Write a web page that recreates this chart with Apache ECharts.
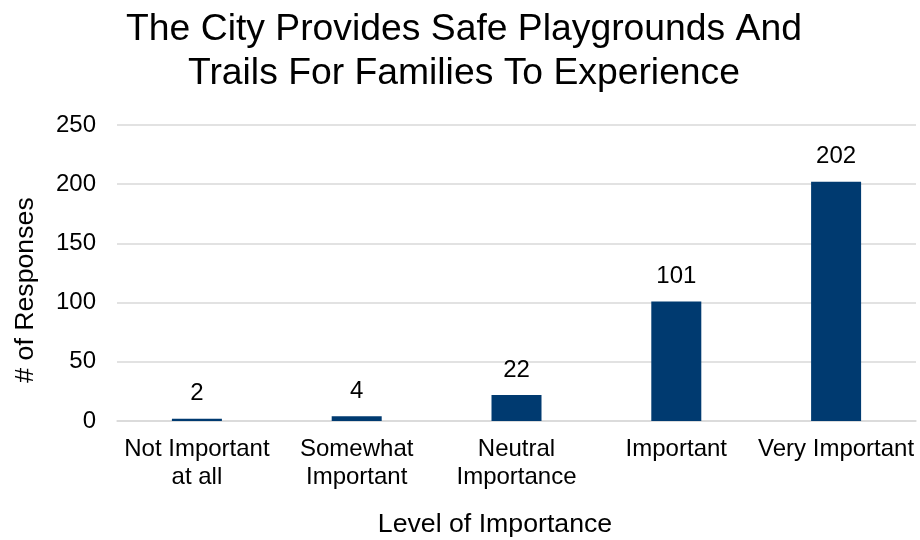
<!DOCTYPE html>
<html>
<head>
<meta charset="utf-8">
<script src="https://cdn.jsdelivr.net/npm/echarts@6/dist/echarts.min.js"></script>
<style>
  html, body { margin: 0; padding: 0; background: #fff; }
  #chart { width: 920px; height: 540px; }
</style>
</head>
<body>
<div id="chart"></div>
<script>
// Survey responses by level of importance
const categories = ['Not Important\nat all', 'Somewhat\nImportant', 'Neutral\nImportance', 'Important', 'Very Important'];
const responses = [2, 4, 22, 101, 202];
const yTicks = [0, 50, 100, 150, 200, 250];

const FONT = '"Liberation Sans", Arial, sans-serif';
const chart = echarts.init(document.getElementById('chart'));

const axisTitle = (text, x, y, rotation) => ({
  type: 'text',
  x: x,
  y: y,
  rotation: rotation,
  style: {
    text: text,
    fontFamily: FONT,
    fontSize: 26.7,
    fill: '#000',
    align: 'center',
    verticalAlign: 'middle'
  }
});

chart.setOption({
  animation: false,
  backgroundColor: '#ffffff',
  title: {
    text: 'The City Provides Safe Playgrounds And\nTrails For Families To Experience',
    left: 464,
    textAlign: 'center',
    top: 8,
    padding: 0,
    textStyle: { fontFamily: FONT, fontSize: 37.3, fontWeight: 'normal', color: '#000', lineHeight: 44 }
  },
  grid: { left: 117, right: 4, top: 125, bottom: 119, containLabel: false, outerBoundsMode: 'none' },
  xAxis: {
    type: 'category',
    data: categories,
    axisTick: { show: false },
    axisLine: { lineStyle: { color: '#d9d9d9', width: 1.5 } },
    axisLabel: { fontFamily: FONT, fontSize: 24, color: '#000', lineHeight: 28, margin: 14, interval: 0 }
  },
  yAxis: {
    type: 'value',
    min: yTicks[0],
    max: yTicks[yTicks.length - 1],
    interval: 50,
    axisLine: { show: false },
    axisTick: { show: false },
    splitLine: { lineStyle: { color: '#d9d9d9', width: 1.5 } },
    axisLabel: { fontFamily: FONT, fontSize: 24, color: '#000', margin: 21 }
  },
  graphic: [
    axisTitle('Level of Importance', 495, 525, 0),
    axisTitle('# of Responses', 26, 290, Math.PI / 2)
  ],
  series: [{
    type: 'bar',
    data: responses,
    barWidth: 50,
    itemStyle: { color: '#003a70' },
    label: {
      show: true,
      position: 'top',
      distance: 13,
      fontFamily: FONT,
      fontSize: 24,
      color: '#000'
    }
  }]
});
</script>
</body>
</html>
